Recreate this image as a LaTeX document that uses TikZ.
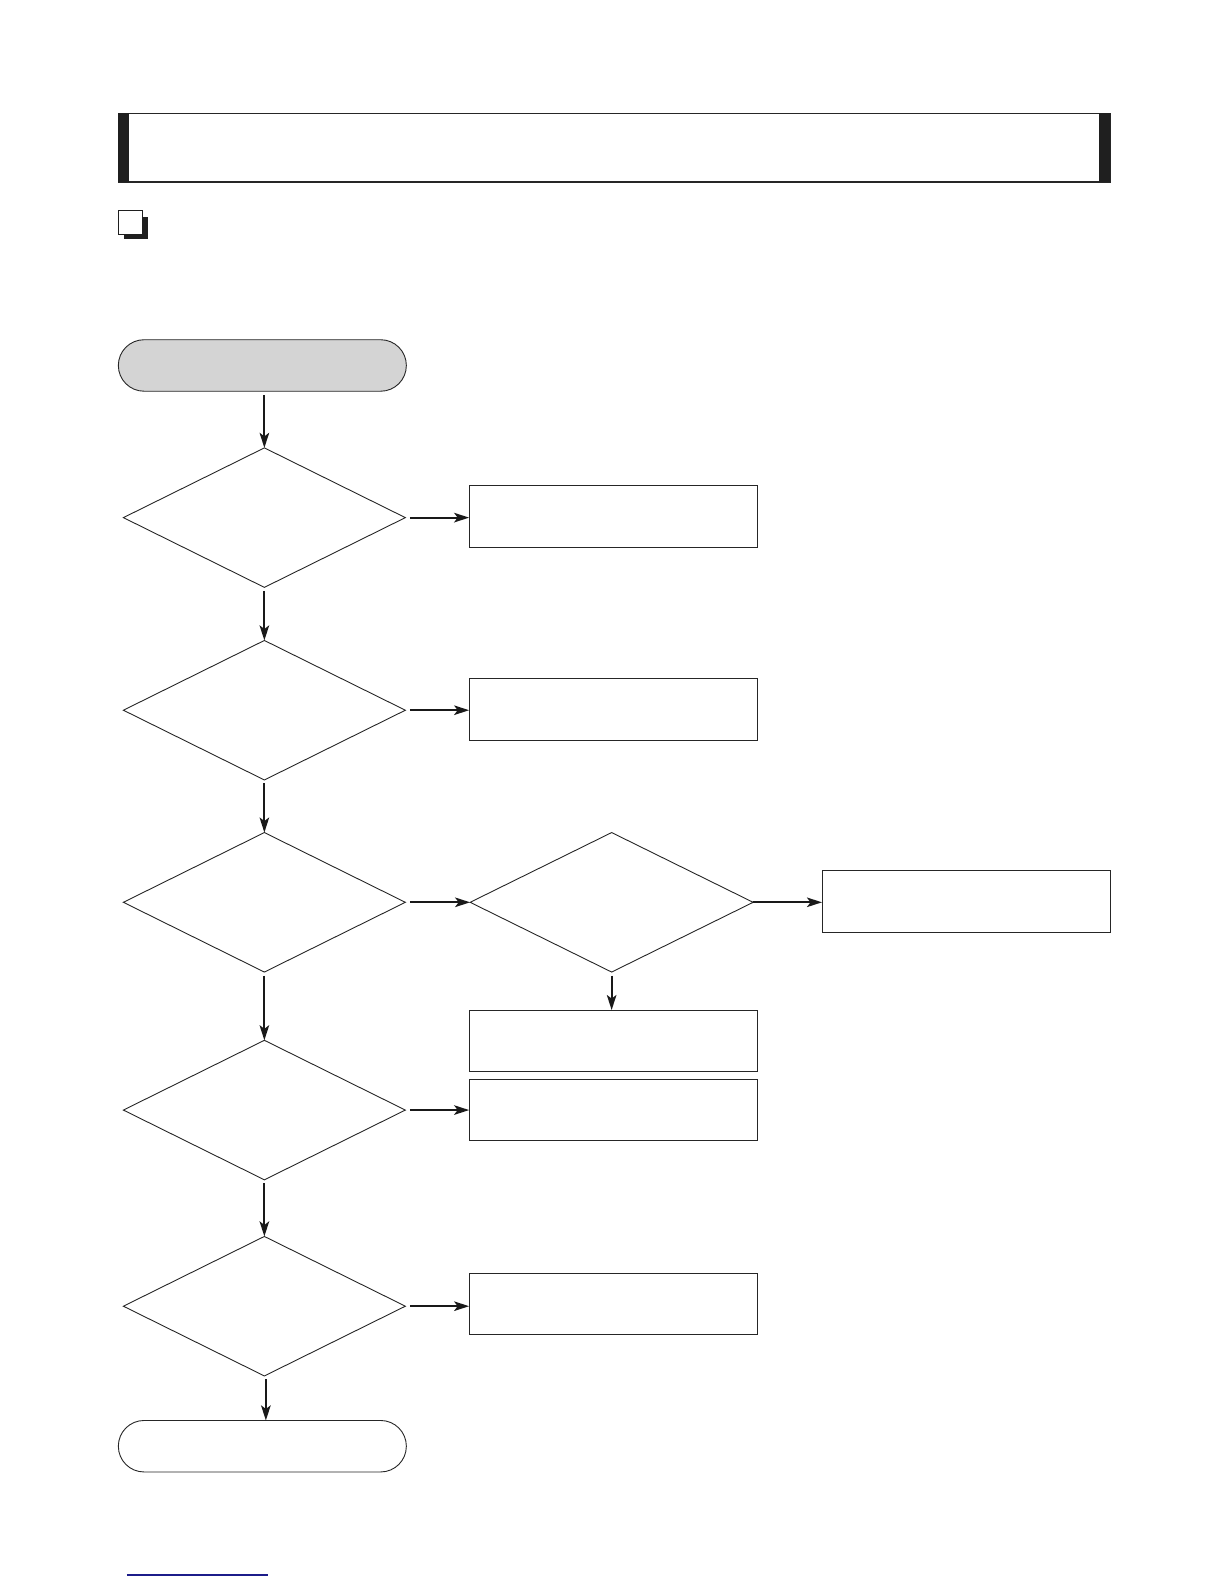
\documentclass[tikz,border=0pt]{standalone}
\usetikzlibrary{shapes.geometric,arrows.meta}
\definecolor{termgray}{HTML}{D4D4D4}
\definecolor{linkblue}{HTML}{1C1C8A}
\begin{document}
\begin{tikzpicture}[x=1.011pt,y=-1.011pt,
  every node/.style={inner sep=0pt,outer sep=0pt},
  decision/.style={draw=black!85,line width=0.9pt,diamond,minimum width=282pt,minimum height=139.5pt,aspect=2},
  procbox/.style={draw=black!85,line width=0.9pt,rectangle,minimum width=288pt,minimum height=61.5pt},
  term/.style={draw=black!85,line width=0.9pt,rectangle,rounded corners=25.7pt,minimum width=288pt,minimum height=51.5pt},
  arr/.style={draw=black!90,line width=2.1pt,-{Stealth[length=15pt,width=9.5pt,inset=3.5pt]}},
  ]
\useasboundingbox (0,0) rectangle (1210.7,1566.8);
% header bar
\draw[line width=1.3pt,draw=black!85] (117,112) rectangle (1098,180);
\fill[black!88] (117,112) rectangle (128,180);
\fill[black!88] (1087,112) rectangle (1098,180);
% checkbox icon
\fill[black!88] (122.5,214.5) rectangle (146,236);
\draw[line width=1.2pt,draw=black!88,fill=white] (117,208) rectangle (141.3,232);
% nodes
\node[term,fill=termgray] (start) at (259.5,361.5) {};
\node[decision] (d1) at (261.5,512) {};
\node[decision] (d2) at (261.5,702.5) {};
\node[decision] (d3) at (261.5,892.5) {};
\node[decision] (d4) at (261.5,1098) {};
\node[decision] (d5) at (261.5,1292) {};
\node[decision,minimum width=283pt] (d6) at (605,892.5) {};
\node[procbox] (b1) at (606.5,511) {};
\node[procbox] (b2) at (606.5,701.5) {};
\node[procbox] (b3) at (955.5,891.5) {};
\node[procbox] (b4) at (606.5,1029.5) {};
\node[procbox] (b5) at (606.5,1098) {};
\node[procbox] (b6) at (606.5,1290) {};
\node[term,fill=white] (end) at (259.5,1430.5) {};
% connectors
\draw[arr,shorten <=4pt] (start.south -| d1.north) -- (d1.north);
\draw[arr,shorten <=3.5pt] (d1.south) -- (d2.north);
\draw[arr,shorten <=3.5pt] (d2.south) -- (d3.north);
\draw[arr,shorten <=3.5pt] (d3.south) -- (d4.north);
\draw[arr,shorten <=3.5pt] (d4.south) -- (d5.north);
\draw[arr,shorten <=3.5pt] ([xshift=1.5pt]d5.south) -- ([xshift=1.5pt]d5.south |- end.north);
\draw[arr,shorten <=4.5pt] (d1.east) -- (d1.east -| b1.west);
\draw[arr,shorten <=4.5pt] (d2.east) -- (d2.east -| b2.west);
\draw[arr,shorten <=4.5pt] (d3.east) -- (d6.west);
\draw[arr] (d6.east) -- (d6.east -| b3.west);
\draw[arr,shorten <=3.5pt] (d6.south) -- (d6.south |- b4.north);
\draw[arr,shorten <=4.5pt] (d4.east) -- (d4.east -| b5.west);
\draw[arr,shorten <=4.5pt] (d5.east) -- (d5.east -| b6.west);
% bottom rule
\draw[linkblue,line width=1.4pt] (125.5,1558) -- (265.5,1558);
\end{tikzpicture}
\end{document}
